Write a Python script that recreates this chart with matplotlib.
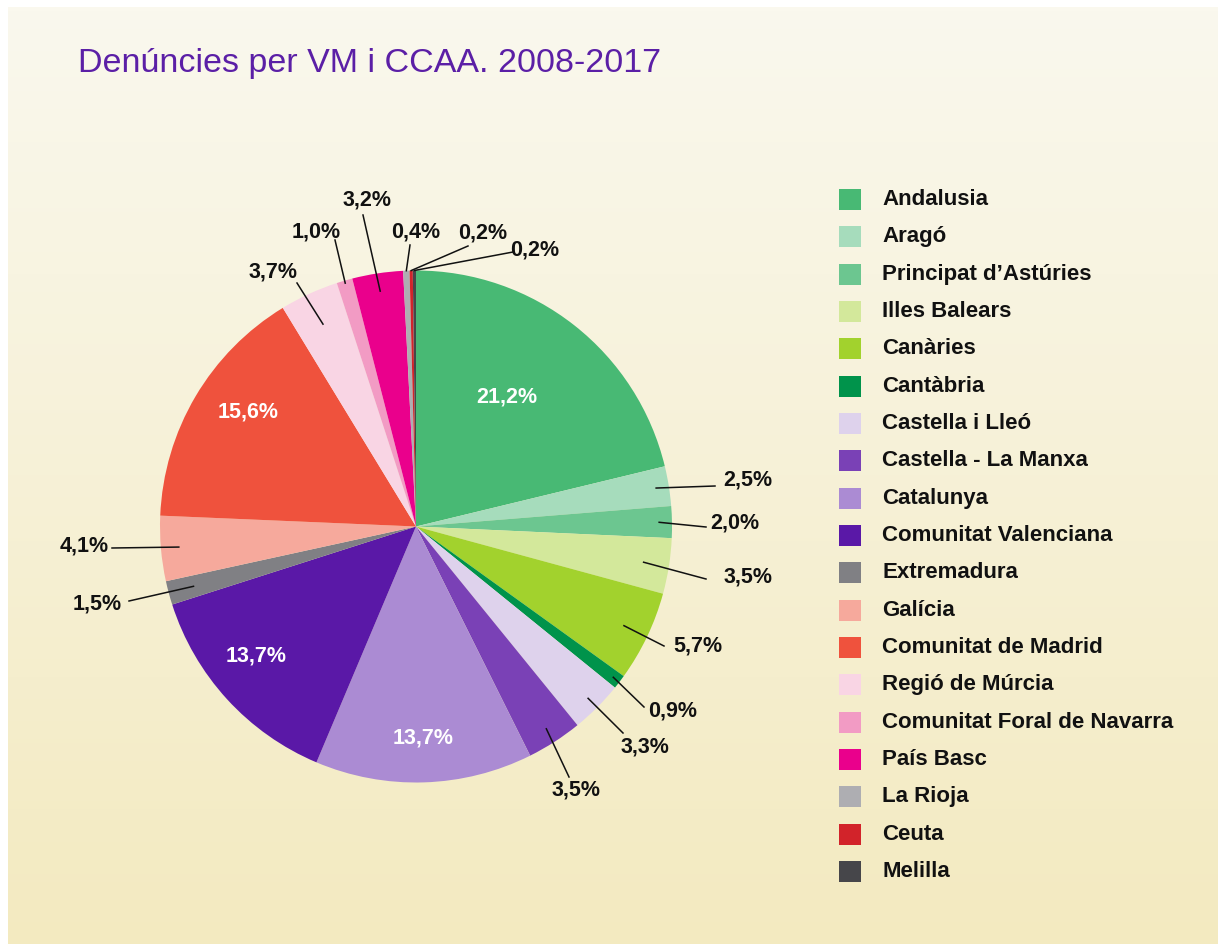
import numpy as np
import matplotlib
matplotlib.use('Agg')
from matplotlib import pyplot as plt
from matplotlib.patches import Rectangle

# data
regions = ['Andalusia', 'Aragó', 'Principat d\u2019Astúries', 'Illes Balears', 'Canàries',
           'Cantàbria', 'Castella i Lleó', 'Castella - La Manxa', 'Catalunya',
           'Comunitat Valenciana', 'Extremadura', 'Galícia', 'Comunitat de Madrid',
           'Regió de Múrcia', 'Comunitat Foral de Navarra', 'País Basc', 'La Rioja',
           'Ceuta', 'Melilla']
shares = [21.2, 2.5, 2.0, 3.5, 5.7, 0.9, 3.3, 3.5, 13.7, 13.7, 1.5, 4.1, 15.6,
          3.7, 1.0, 3.2, 0.4, 0.2, 0.2]
colors = ['#48b974', '#a6dcbc', '#6cc690', '#d3e89b', '#a2d22d', '#00934b',
          '#ded2ec', '#7a41b6', '#ab8bd3', '#5a18a7', '#808084', '#f6a99c',
          '#ef523d', '#f9d5e4', '#f29bc4', '#ea008c', '#aeaeb2', '#d2232a', '#46464a']

title = 'Denúncies per VM i CCAA. 2008-2017'

W, H = 1224, 946
cx, cy, R = 416, 526.5, 256

def px(x, y):
    return x, H - y

# label layout (pixel coords): inside labels -> text pos; outside -> text pos, leader end, leader start fraction
inside = {0: (507, 397), 8: (423, 738), 9: (256, 656), 12: (248, 412)}
outside = {
    1: ((748, 480), (715, 486), 0.95),
    2: ((735, 523), (706, 527), 0.95),
    3: ((748, 577), (706, 579), 0.90),
    4: ((698, 646), (664, 646), 0.90),
    5: ((673, 711), (644, 707), 0.97),
    6: ((645, 747), (623, 733), 0.95),
    7: ((576, 790), (569, 777), 0.94),
    10: ((97, 604), (129, 601), 0.90),
    11: ((84, 546), (112, 548), 0.93),
    13: ((273, 272), (297, 283), 0.87),
    14: ((316, 232), (335, 240), 0.99),
    15: ((367, 200), (363, 215), 0.93),
    16: ((416, 232), (410, 245), 1.0),
    17: ((483, 233), (468, 246), 1.0),
    18: ((535, 250), (513, 252), 1.0),
}

fig = plt.figure(figsize=(W / 100, H / 100), dpi=100)
fig.patch.set_facecolor('white')
ax = fig.add_axes([0, 0, 1, 1])

# background panel with vertical gradient
top = np.array([250, 248, 238]) / 255
bot = np.array([243, 234, 192]) / 255
t = np.linspace(0, 1, 256)[:, None]
grad = (top * (1 - t) + bot * t)[:, None, :]
ax.imshow(grad, extent=[8, 1218, H - 944, H - 8], aspect='auto', zorder=0)

wedges, _ = ax.pie(shares, colors=colors, startangle=90, counterclock=False,
                   center=px(cx, cy), radius=R, wedgeprops=dict(linewidth=0))
for w in wedges:
    w.set_zorder(2)

def pct(v):
    return ('%.1f%%' % v).replace('.', ',')

for i, (tx, ty) in inside.items():
    ax.text(*px(tx, ty), pct(shares[i]), color='white', fontsize=15.5, fontweight='bold',
            family='Liberation Sans', ha='center', va='center', zorder=4)

for i, ((tx, ty), (ex, ey), f) in outside.items():
    w = wedges[i]
    mid = np.deg2rad((w.theta1 + w.theta2) / 2)
    sx, sy = w.center[0] + f * R * np.cos(mid), w.center[1] + f * R * np.sin(mid)
    ax.plot([sx, ex], [sy, H - ey], color='#111111', lw=1.1, zorder=3)
    ax.text(*px(tx, ty), pct(shares[i]), color='#111111', fontsize=15.5, fontweight='bold',
            family='Liberation Sans', ha='center', va='center', zorder=4)

# title
ax.text(*px(78, 72), title, color='#5b1fa6', fontsize=24.5, family='Liberation Sans',
        ha='left', va='baseline', zorder=4)

# legend
for i, name in enumerate(regions):
    y = 199.5 + i * 37.33
    ax.add_patch(Rectangle(px(839, y + 10.5), 22, 21, facecolor=colors[i], edgecolor='none', zorder=4))
    ax.text(*px(882, y), name, color='#111111', fontsize=16, fontweight='bold',
            family='Liberation Sans', ha='left', va='center', zorder=4)

ax.set_xlim(0, W)
ax.set_ylim(0, H)
ax.set_aspect('equal')
ax.axis('off')

fig.savefig('out.png', dpi=100, facecolor='white')
